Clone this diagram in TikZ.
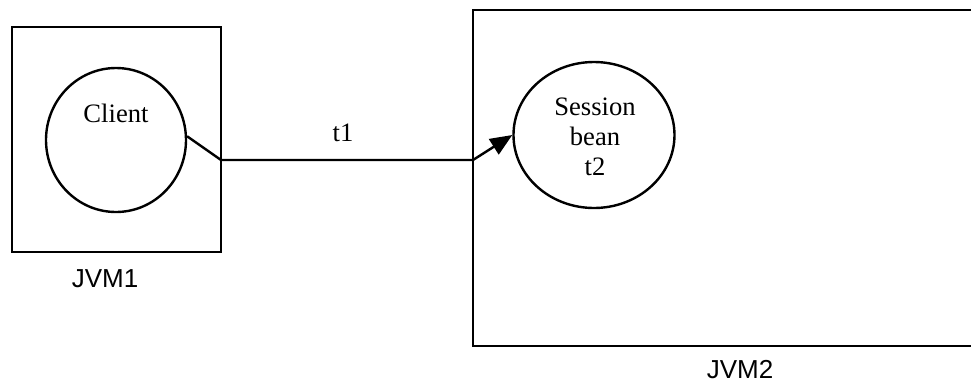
\documentclass[tikz,border=0pt]{standalone}
\usepackage{fontspec}
\setmainfont{Liberation Serif}
\setsansfont{Liberation Sans}
\usetikzlibrary{shapes.geometric,arrows.meta}
\begin{document}
\begin{tikzpicture}[x=0.5pt,y=-0.5pt, line width=1.2pt,
  oval/.style={draw, ellipse, inner sep=0pt},
  jvmbox/.style={draw, rectangle, inner sep=0pt},
  serifText/.style={font=\fontsize{13.3}{15}\selectfont, align=center, inner sep=0pt},
  sansText/.style={font=\sffamily\fontsize{13}{15}\selectfont, inner sep=0pt},
  conn/.style={line width=1.2pt},
  tip/.style={-{Triangle[length=11pt,width=9pt]}}]
\useasboundingbox (0,0) rectangle (971,387);
% left JVM box
\node[jvmbox, minimum width=104.5pt, minimum height=112.5pt] (jvm1box) at (116.5,139.5) {};
% right JVM box (open to the right)
\coordinate (r1) at (975,10);
\coordinate (r2) at (473,10);
\coordinate (r3) at (473,346);
\coordinate (r4) at (975,346);
\draw (r1) -- (r2) -- (r3) -- (r4);
% ovals
\node[oval, minimum width=70pt, minimum height=72pt] (client) at (116,140) {};
\node[oval, minimum width=80.5pt, minimum height=73pt] (bean) at (594,135) {};
\node[serifText] (clientlbl) at (116,113) {Client};
\node[serifText] (beanlbl) at (595,137) {Session\\bean\\t2};
% connector
\coordinate (b1) at (221,160);
\coordinate (b2) at (473,160);
\draw[conn, tip] (client.3) -- (b1) -- (b2) -- (bean.west);
\node[serifText] (t1) at (343,133) {t1};
% labels
\node[sansText] (jvm1) at (105,279) {JVM1};
\node[sansText] (jvm2) at (740,370) {JVM2};
\end{tikzpicture}
\end{document}
